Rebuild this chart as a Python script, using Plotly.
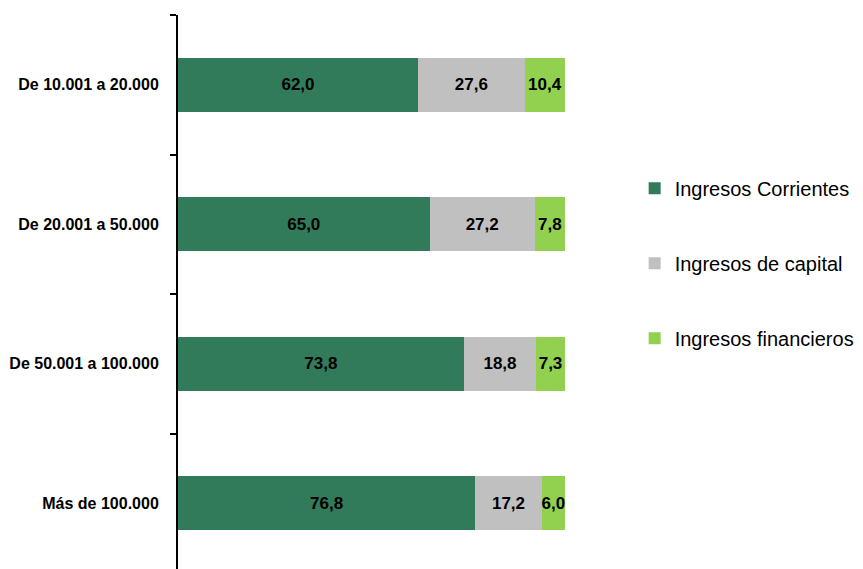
import plotly.graph_objects as go

categorias = ["De 10.001 a 20.000", "De 20.001 a 50.000", "De 50.001 a 100.000", "Más de 100.000"]
corrientes = [62.0, 65.0, 73.8, 76.8]
capital = [27.6, 27.2, 18.8, 17.2]
financieros = [10.4, 7.8, 7.3, 6.0]

series = [
    ("Ingresos Corrientes", corrientes, "#317b5a"),
    ("Ingresos de capital", capital, "#c0c0c0"),
    ("Ingresos financieros", financieros, "#92d050"),
]

fuente = "Liberation Sans Narrow, Arial Narrow, Liberation Sans, Arial"

fig = go.Figure()
for nombre, valores, color in series:
    fig.add_trace(go.Bar(
        y=categorias,
        x=valores,
        name=nombre,
        legendgroup=nombre,
        orientation="h",
        marker_color=color,
        marker_line_width=0,
        texttemplate="<b>%{x:.1f}</b>",
        textposition="inside",
        insidetextanchor="middle",
        textangle=0,
        constraintext="none",
        textfont=dict(family=fuente, size=17, color="black"),
    ))

# la página añade 8px de margen, por eso 855x561
fig.update_layout(
    barmode="stack",
    bargap=0.61,
    width=855,
    height=561,
    separators=",.",
    plot_bgcolor="white",
    paper_bgcolor="white",
    margin=dict(l=170, r=298, t=7, b=0, autoexpand=False),
    showlegend=True,
    legend=dict(
        x=1.18, xanchor="left",
        y=0.552, yanchor="middle",
        traceorder="grouped",
        tracegroupgap=46,
        font=dict(family=fuente, size=20, color="black"),
        itemwidth=30,
    ),
)
fig.update_xaxes(range=[0, 100], visible=False)
fig.update_yaxes(
    categoryorder="array",
    categoryarray=categorias,
    range=[3.471, -0.5],
    automargin=False,
    showline=True,
    linecolor="black",
    linewidth=2,
    ticks="outside",
    tickson="boundaries",
    ticklen=6,
    tickwidth=2,
    tickcolor="black",
    showgrid=False,
    tickfont=dict(family=fuente, size=16, color="black"),
    tickvals=categorias,
    ticktext=[f"<b>{c}</b>" for c in categorias],
    ticklabelstandoff=14,
)

fig.write_html("out.html")
